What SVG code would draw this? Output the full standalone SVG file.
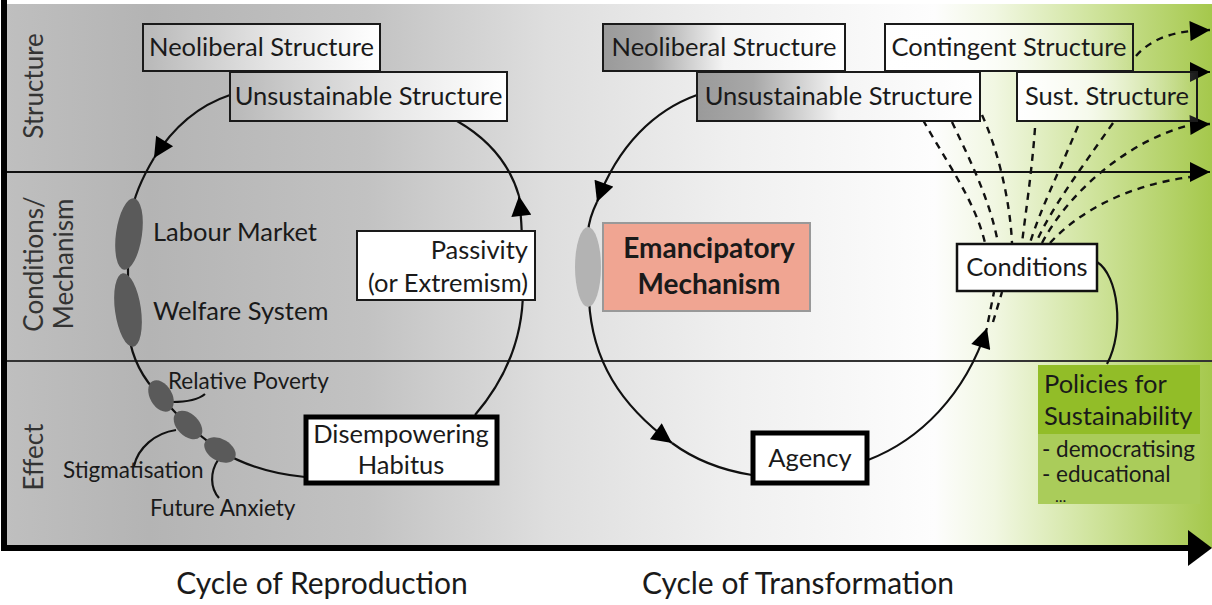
<svg xmlns="http://www.w3.org/2000/svg" width="1212" height="605" viewBox="0 0 1212 605">
<style>
text{font-family:Lato,"Open Sans","Liberation Sans",sans-serif;fill:#1a1a1a}
.lb{font-size:25.5px}
.sm{font-size:22.5px}
.row{font-size:26px;fill:#333}
.cyc{font-size:30px}
.ln{fill:none;stroke:#111;stroke-width:2.2}
.ds{fill:none;stroke:#111;stroke-width:2.4;stroke-dasharray:7 6}
.bx{stroke:#1a1a1a;stroke-width:2}
.ell{fill:#5a5a5a}
</style>
<defs>
<linearGradient id="bg" x1="0" y1="0" x2="1" y2="0">
<stop offset="0" stop-color="#bfbfbf"/>
<stop offset="0.12" stop-color="#b4b4b4"/>
<stop offset="0.3" stop-color="#c2c2c2"/>
<stop offset="0.45" stop-color="#dedede"/>
<stop offset="0.6" stop-color="#efefef"/>
<stop offset="0.77" stop-color="#fdfdfd"/>
<stop offset="0.82" stop-color="#f1f7e2"/>
<stop offset="0.9" stop-color="#d0e49e"/>
<stop offset="1" stop-color="#a5c84c"/>
</linearGradient>
<linearGradient id="gl" x1="0" y1="0" x2="1" y2="0">
<stop offset="0" stop-color="#b8b8b8"/>
<stop offset="0.55" stop-color="#e6e6e6"/>
<stop offset="1" stop-color="#ffffff"/>
</linearGradient>
<linearGradient id="gd" x1="0" y1="0" x2="1" y2="0">
<stop offset="0" stop-color="#9a9a9a"/>
<stop offset="0.2" stop-color="#a8a8a8"/>
<stop offset="0.5" stop-color="#f4f4f4"/>
<stop offset="1" stop-color="#ffffff"/>
</linearGradient>
<linearGradient id="gw" x1="0" y1="0" x2="1" y2="0">
<stop offset="0" stop-color="#ffffff" stop-opacity="1"/>
<stop offset="0.4" stop-color="#ffffff" stop-opacity="0.8"/>
<stop offset="1" stop-color="#ffffff" stop-opacity="0.1"/>
</linearGradient>
<marker id="ah" viewBox="0 0 20 20" refX="20" refY="10" markerWidth="22" markerHeight="20" markerUnits="userSpaceOnUse" orient="auto">
<path d="M0,0 L20,10 L0,20 z" fill="#000"/>
</marker>
</defs>

<rect x="4" y="4" width="1208" height="544" fill="url(#bg)"/>

<g id="row-labels">
<text class="row" transform="translate(43,86) rotate(-90)" text-anchor="middle">Structure</text>
<text class="row" transform="translate(43,264) rotate(-90)" text-anchor="middle">Conditions/</text>
<text class="row" transform="translate(73,264) rotate(-90)" text-anchor="middle">Mechanism</text>
<text class="row" transform="translate(43,457) rotate(-90)" text-anchor="middle">Effect</text>
</g>

<g id="connectors">
<line x1="4" y1="172" x2="1210" y2="172" stroke="#111" stroke-width="2.2" marker-end="url(#ah)"/>
<line x1="4" y1="361" x2="1212" y2="361" stroke="#333" stroke-width="2.2"/>
<line x1="1133" y1="72" x2="1210" y2="72" stroke="#111" stroke-width="2.2" marker-end="url(#ah)"/>
<!-- left cycle -->
<path class="ln" d="M230,95 C200,105 174,126 154,158" marker-end="url(#ah)"/>
<path class="ln" d="M154,158 C142,178 134,195 131,215"/>
<path class="ln" d="M128,260 L128,285"/>
<path class="ln" d="M129,335 C132,358 142,378 160,396 L187,425 L219,450 C245,466 272,474 305,477"/>
<path class="ln" d="M475,415 C505,380 523,340 523,290 C523,245 522,222 519,196" marker-end="url(#ah)"/>
<path class="ln" d="M519,196 C510,165 490,140 457,121"/>
<path class="ln" d="M172,402 C185,402 198,400 205,394"/>
<path class="ln" d="M176,430 C155,433 138,448 134,466"/>
<path class="ln" d="M218,460 C210,472 210,488 219,498"/>
<!-- right cycle -->
<path class="ln" d="M697,95 C655,110 618,145 597,202" marker-end="url(#ah)"/>
<path class="ln" d="M597,202 C592,212 589,220 588,232"/>
<path class="ln" d="M589,300 C592,360 620,405 672,443" marker-end="url(#ah)"/>
<path class="ln" d="M672,443 C695,460 720,470 752,475"/>
<path class="ln" d="M868,460 C920,440 965,395 987,328" marker-end="url(#ah)"/>
<path class="ds" d="M988,322 L994,292" stroke-width="4" stroke-dasharray="6 5"/>
<path class="ds" d="M993,322 L1002,292" stroke-width="3" stroke-dasharray="6 5"/>
<path class="ln" d="M1097,262 C1118,275 1125,330 1107,364"/>
<!-- dashed fan -->
<path class="ds" d="M923,120 C945,160 975,200 985,243"/>
<path class="ds" d="M952,122 C970,160 990,200 998,243"/>
<path class="ds" d="M982,115 C998,150 1010,200 1012,243"/>
<path class="ds" d="M1035,128 C1032,170 1026,210 1022,243"/>
<path class="ds" d="M1078,126 C1060,170 1040,210 1030,243"/>
<path class="ds" d="M1113,123 C1080,170 1050,210 1036,243"/>
<path class="ds" d="M1042,243 C1070,190 1130,140 1190,125 L1210,124" marker-end="url(#ah)"/>
<path class="ds" d="M1050,243 C1080,210 1130,185 1190,177"/>
<path class="ds" d="M1136,56 C1150,40 1170,33 1192,31 L1210,30" marker-end="url(#ah)"/>
<!-- axes -->
<line x1="4" y1="0" x2="4" y2="551" stroke="#000" stroke-width="6"/>
<line x1="1" y1="548" x2="1192" y2="548" stroke="#000" stroke-width="6"/>
<polygon points="1188,530 1212,548 1188,566" fill="#000"/>
</g>

<g id="ellipses">
<ellipse class="ell" cx="129" cy="234" rx="13" ry="36" transform="rotate(8 129 234)"/>
<ellipse class="ell" cx="128" cy="310" rx="13" ry="37" transform="rotate(-8 128 310)"/>
<ellipse class="ell" cx="161" cy="396" rx="17" ry="11" transform="rotate(60 161 396)"/>
<ellipse class="ell" cx="188" cy="425" rx="17" ry="11" transform="rotate(45 188 425)"/>
<ellipse class="ell" cx="220" cy="450" rx="17" ry="11" transform="rotate(30 220 450)"/>
<ellipse cx="588" cy="267" rx="13" ry="40" fill="#b3b3b3"/>
</g>

<g id="labels-left">
<text class="lb" x="153" y="241">Labour Market</text>
<text class="lb" x="153" y="320">Welfare System</text>
<text class="sm" x="168" y="389">Relative Poverty</text>
<text class="sm" x="63" y="478">Stigmatisation</text>
<text class="sm" x="150" y="516">Future Anxiety</text>
</g>

<g id="neoliberal-left">
<rect class="bx" x="143" y="24" width="237" height="47" fill="url(#gl)"/>
<text class="lb" x="261.5" y="56" text-anchor="middle">Neoliberal Structure</text>
</g>
<g id="unsustainable-left">
<rect class="bx" x="230" y="72" width="277" height="49" fill="url(#gl)"/>
<text class="lb" x="368.5" y="105" text-anchor="middle">Unsustainable Structure</text>
</g>
<g id="passivity">
<rect class="bx" x="357" y="231" width="178" height="69" fill="#fff"/>
<text class="lb" x="528" y="259" text-anchor="end">Passivity</text>
<text class="lb" x="528" y="292" text-anchor="end">(or Extremism)</text>
</g>
<g id="disempowering">
<rect x="306" y="417" width="191" height="66" fill="#fff" stroke="#000" stroke-width="5"/>
<text class="lb" x="401" y="443" text-anchor="middle">Disempowering</text>
<text class="lb" x="401" y="474" text-anchor="middle">Habitus</text>
</g>

<g id="neoliberal-right">
<rect class="bx" x="603" y="24" width="242" height="47" fill="url(#gd)"/>
<text class="lb" x="724" y="56" text-anchor="middle">Neoliberal Structure</text>
</g>
<g id="unsustainable-right">
<rect class="bx" x="697" y="72" width="283" height="49" fill="url(#gd)"/>
<text class="lb" x="838.5" y="105" text-anchor="middle">Unsustainable Structure</text>
</g>
<g id="contingent">
<rect class="bx" x="885" y="24" width="248" height="47" fill="url(#gw)"/>
<text class="lb" x="1009" y="56" text-anchor="middle">Contingent Structure</text>
</g>
<g id="sust">
<rect class="bx" x="1017" y="72" width="180" height="49" fill="url(#gw)"/>
<text class="lb" x="1107" y="105" text-anchor="middle">Sust. Structure</text>
</g>
<g id="emancipatory">
<rect x="603" y="223" width="207" height="88" fill="#f0a592" stroke="#999" stroke-width="2"/>
<text x="709" y="258" text-anchor="middle" font-size="28" font-weight="bold">Emancipatory</text>
<text x="709" y="294" text-anchor="middle" font-size="28" font-weight="bold">Mechanism</text>
</g>
<g id="conditions">
<rect x="957" y="244" width="140" height="47" fill="#fff" stroke="#111" stroke-width="2.5"/>
<text class="lb" x="1027" y="276" text-anchor="middle">Conditions</text>
</g>
<g id="agency">
<rect x="753" y="433" width="114" height="50" fill="#fff" stroke="#000" stroke-width="5"/>
<text class="lb" x="810" y="467" text-anchor="middle">Agency</text>
</g>
<g id="policies">
<rect x="1038" y="365" width="162" height="69" fill="#92bd28"/>
<rect x="1038" y="434" width="162" height="70" fill="#aacc5a"/>
<text class="lb" x="1044" y="393">Policies for</text>
<text class="lb" x="1044" y="425">Sustainability</text>
<text class="sm" x="1042" y="457">- democratising</text>
<text class="sm" x="1042" y="482">- educational</text>
<text x="1055" y="502" font-size="16">...</text>
</g>

<g id="cycle-labels">
<text class="cyc" x="322" y="594" text-anchor="middle">Cycle of Reproduction</text>
<text class="cyc" x="798" y="594" text-anchor="middle">Cycle of Transformation</text>
</g>
</svg>
